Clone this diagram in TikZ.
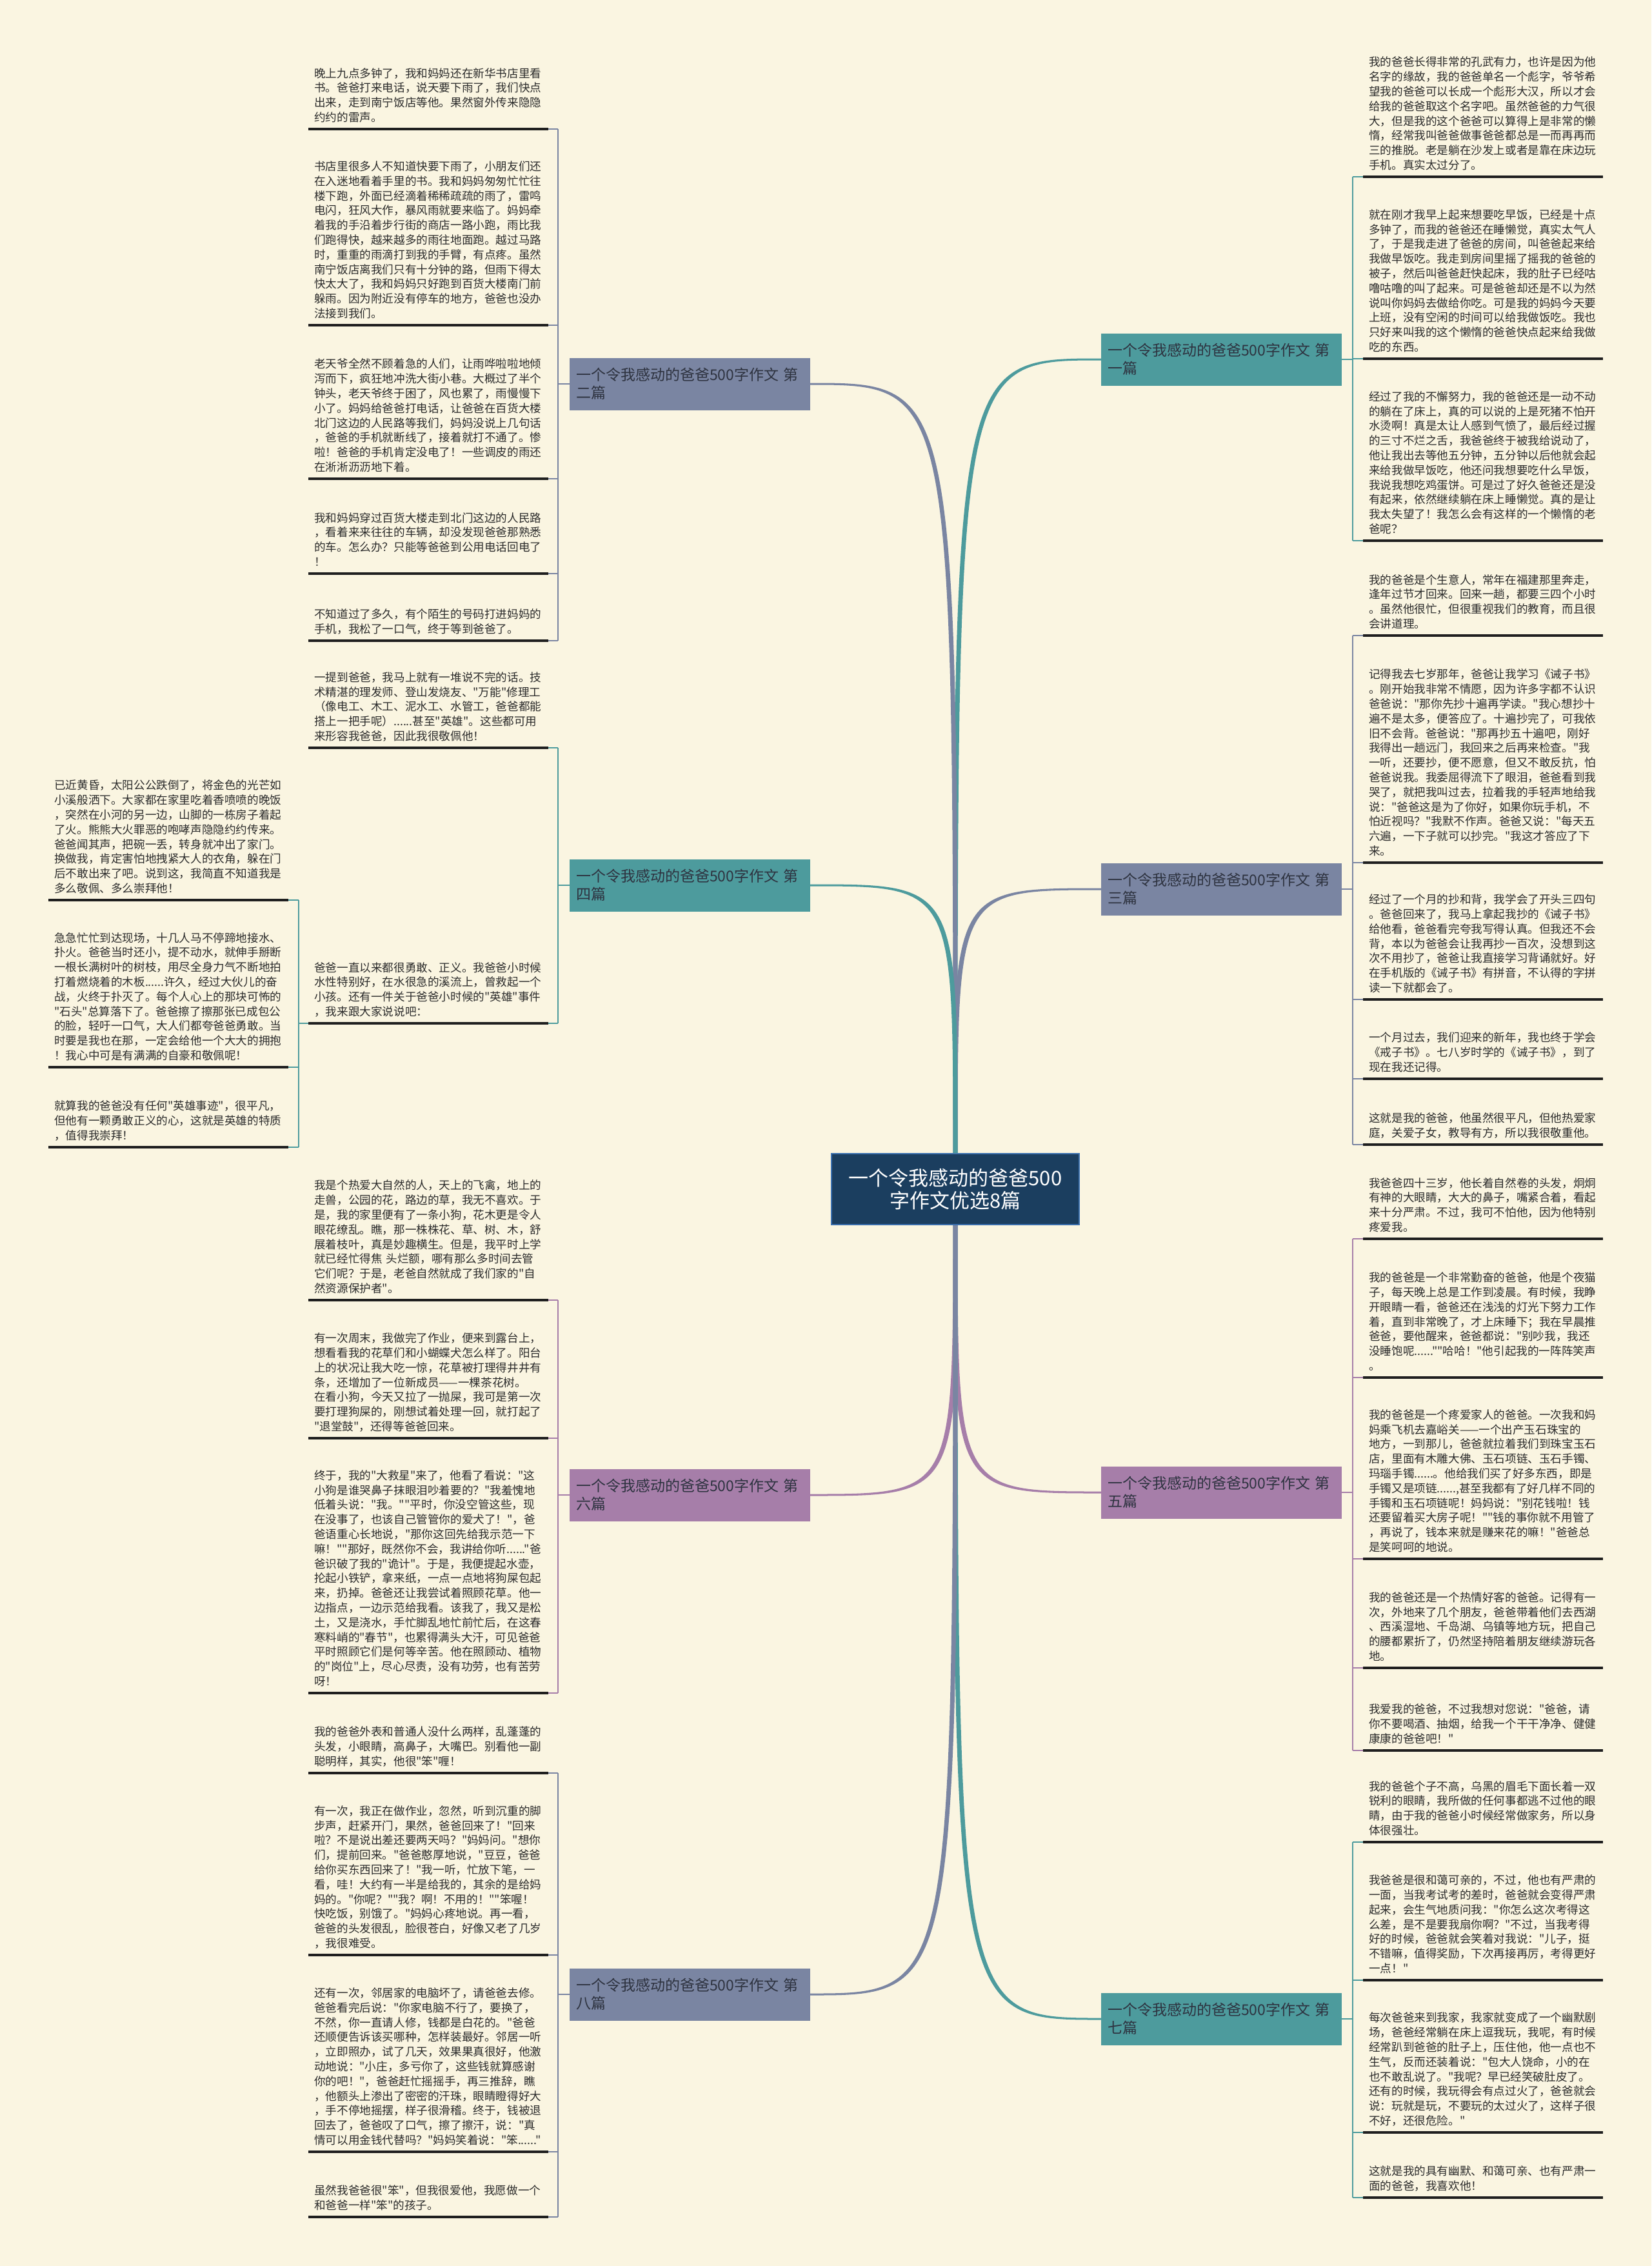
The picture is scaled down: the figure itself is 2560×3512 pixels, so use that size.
\documentclass[tikz,border=0pt]{standalone}
\usepackage{fontspec}
\usetikzlibrary{calc}
\newfontfamily\cjk{Noto Sans CJK SC}
\definecolor{bg}{HTML}{FAF5E1}
\definecolor{slatec}{HTML}{7A85A2}
\definecolor{tealc}{HTML}{4D9B9D}
\definecolor{mauvec}{HTML}{A67EA9}
\definecolor{cfill}{HTML}{1B3E5F}
\definecolor{cdraw}{HTML}{3A6FAE}
\definecolor{txtc}{HTML}{2B2B2B}
\definecolor{labtxt}{HTML}{2E3340}
\tikzset{
  tb/.style={inner xsep=9pt, inner ysep=0pt, text width=354pt, align=left,
    font=\cjk\fontsize{17.6}{22.8}\selectfont, text=txtc},
  lab/.style={text width=353pt, inner xsep=10pt, minimum height=81pt, align=left,
    font=\cjk\fontsize{23}{28}\selectfont, text=labtxt},
  cnode/.style={fill=cfill, draw=cdraw, line width=2pt, minimum width=384pt,
    minimum height=110pt, align=center, text=white, font=\cjk\fontsize{31}{35}\selectfont},
  brk/.style={line width=2.5pt},
  uline/.style={line width=3.5pt, draw=black!88},
}
\newcommand\tb[4]{%
  \node[tb, anchor=south west] (#1) at (#2,#3) {#4\vrule depth 11.4pt height 0pt width 0pt};
  \draw[uline] (#1.south west) -- (#1.south east);}
% tapered connector: colour, start, end, pairing sign
\newcommand\conn[4]{%
  \coordinate (sa) at ($(#2)+(-3.5,0)$);
  \coordinate (sb) at ($(#2)+(3.5,0)$);
  \coordinate (ea) at ($(#3)+(0,{#4*1.5})$);
  \coordinate (eb) at ($(#3)+(0,{-#4*1.5})$);
  \fill[#1] (sa) .. controls (sa |- ea) .. (ea) -- (eb) .. controls (sb |- eb) .. (sb) -- cycle;}
\begin{document}
\begin{tikzpicture}[x=1pt,y=-1pt]
\fill[bg] (0,0) rectangle (2560,3512);
\useasboundingbox (0,0) rectangle (2560,3512);

% center
\node[cnode] (c) at (1481,1843) {一个令我感动的爸爸500\\字作文优选8篇};

% labels
\node[lab, fill=tealc] (l1) at (1893.5,557) {一个令我感动的爸爸500字作文 第\\一篇};
\node[lab, fill=slatec] (l2) at (1069.5,595) {一个令我感动的爸爸500字作文 第\\二篇};
\node[lab, fill=slatec] (l3) at (1893.5,1378) {一个令我感动的爸爸500字作文 第\\三篇};
\node[lab, fill=tealc] (l4) at (1069.5,1372) {一个令我感动的爸爸500字作文 第\\四篇};
\node[lab, fill=mauvec] (l5) at (1893.5,2313) {一个令我感动的爸爸500字作文 第\\五篇};
\node[lab, fill=mauvec] (l6) at (1069.5,2317) {一个令我感动的爸爸500字作文 第\\六篇};
\node[lab, fill=tealc] (l7) at (1893.5,3129) {一个令我感动的爸爸500字作文 第\\七篇};
\node[lab, fill=slatec] (l8) at (1069.5,3091) {一个令我感动的爸爸500字作文 第\\八篇};

% center connectors (tapered)
\conn{tealc}{c.north}{l1.west}{-1}
\conn{slatec}{c.north}{l2.east}{1}
\conn{slatec}{c.north}{l3.west}{-1}
\conn{tealc}{c.north}{l4.east}{1}
\conn{mauvec}{c.south}{l5.west}{1}
\conn{mauvec}{c.south}{l6.east}{-1}
\conn{tealc}{c.south}{l7.west}{1}
\conn{slatec}{c.south}{l8.east}{-1}

% bracket points
\coordinate (v1) at (2097,557);
\coordinate (v2) at (865,595);
\coordinate (v3) at (2097,1378);
\coordinate (v4) at (865,1372);
\coordinate (v5) at (2097,2313);
\coordinate (v6) at (865,2317);
\coordinate (v7) at (2097,3129);
\coordinate (v8) at (865,3091);
\coordinate (vf) at (463,1586);

% ===== 第二篇 =====
\tb{b2a}{478}{200}{晚上九点多钟了，我和妈妈还在新华书店里看\\书。爸爸打来电话，说天要下雨了，我们快点\\出来，走到南宁饭店等他。果然窗外传来隐隐\\约约的雷声。}
\tb{b2b}{478}{504}{书店里很多人不知道快要下雨了，小朋友们还\\在入迷地看着手里的书。我和妈妈匆匆忙忙往\\楼下跑，外面已经滴着稀稀疏疏的雨了，雷鸣\\电闪，狂风大作，暴风雨就要来临了。妈妈牵\\着我的手沿着步行街的商店一路小跑，雨比我\\们跑得快，越来越多的雨往地面跑。越过马路\\时，重重的雨滴打到我的手臂，有点疼。虽然\\南宁饭店离我们只有十分钟的路，但雨下得太\\快太大了，我和妈妈只好跑到百货大楼南门前\\躲雨。因为附近没有停车的地方，爸爸也没办\\法接到我们。}
\tb{b2c}{478}{742}{老天爷全然不顾着急的人们，让雨哗啦啦地倾\\泻而下，疯狂地冲洗大街小巷。大概过了半个\\钟头，老天爷终于困了，风也累了，雨慢慢下\\小了。妈妈给爸爸打电话，让爸爸在百货大楼\\北门这边的人民路等我们，妈妈没说上几句话\\，爸爸的手机就断线了，接着就打不通了。惨\\啦！爸爸的手机肯定没电了！一些调皮的雨还\\在淅淅沥沥地下着。}
\tb{b2d}{478}{889}{我和妈妈穿过百货大楼走到北门这边的人民路\\，看着来来往往的车辆，却没发现爸爸那熟悉\\的车。怎么办？只能等爸爸到公用电话回电了\\！}
\tb{b2e}{478}{993}{不知道过了多久，有个陌生的号码打进妈妈的\\手机，我松了一口气，终于等到爸爸了。}
\draw[brk, slatec] (l2.west) -- (v2);
\draw[brk, slatec] (v2 |- b2a.south) -- (v2 |- b2e.south);
\foreach \b in {b2a,b2b,b2c,b2d,b2e} \draw[brk, slatec] (\b.south east) -- (v2 |- \b.south);

% ===== 第四篇 =====
\tb{b4a}{478}{1159}{一提到爸爸，我马上就有一堆说不完的话。技\\术精湛的理发师、登山发烧友、"万能"修理工\\（像电工、木工、泥水工、水管工，爸爸都能\\搭上一把手呢）......甚至"英雄"。这些都可用\\来形容我爸爸，因此我很敬佩他！}
\tb{b4b}{478}{1586}{爸爸一直以来都很勇敢、正义。我爸爸小时候\\水性特别好，在水很急的溪流上，曾救起一个\\小孩。还有一件关于爸爸小时候的"英雄"事件\\，我来跟大家说说吧：}
\draw[brk, tealc] (l4.west) -- (v4);
\draw[brk, tealc] (v4 |- b4a.south) -- (v4 |- b4b.south);
\foreach \b in {b4a,b4b} \draw[brk, tealc] (\b.south east) -- (v4 |- \b.south);

\tb{f1}{75}{1395}{已近黄昏，太阳公公跌倒了，将金色的光芒如\\小溪般洒下。大家都在家里吃着香喷喷的晚饭\\，突然在小河的另一边，山脚的一栋房子着起\\了火。熊熊大火罪恶的咆哮声隐隐约约传来。\\爸爸闻其声，把碗一丢，转身就冲出了家门。\\换做我，肯定害怕地拽紧大人的衣角，躲在门\\后不敢出来了吧。说到这，我简直不知道我是\\多么敬佩、多么崇拜他！}
\tb{f2}{75}{1654}{急急忙忙到达现场，十几人马不停蹄地接水、\\扑火。爸爸当时还小，提不动水，就伸手掰断\\一根长满树叶的树枝，用尽全身力气不断地拍\\打着燃烧着的木板......许久，经过大伙儿的奋\\战，火终于扑灭了。每个人心上的那块可怖的\\"石头"总算落下了。爸爸擦了擦那张已成包公\\的脸，轻吁一口气，大人们都夸爸爸勇敢。当\\时要是我也在那，一定会给他一个大大的拥抱\\！我心中可是有满满的自豪和敬佩呢！}
\tb{f3}{75}{1778}{就算我的爸爸没有任何"英雄事迹"，很平凡，\\但他有一颗勇敢正义的心，这就是英雄的特质\\，值得我崇拜！}
\draw[brk, tealc] (b4b.south west) -- (vf |- b4b.south);
\draw[brk, tealc] (vf |- f1.south) -- (vf |- f3.south);
\foreach \b in {f1,f2,f3} \draw[brk, tealc] (\b.south east) -- (vf |- \b.south);

% ===== 第六篇 =====
\tb{b6a}{478}{2015}{我是个热爱大自然的人，天上的飞禽，地上的\\走兽，公园的花，路边的草，我无不喜欢。于\\是，我的家里便有了一条小狗，花木更是令人\\眼花缭乱。瞧，那一株株花、草、树、木，舒\\展着枝叶，真是妙趣横生。但是，我平时上学\\就已经忙得焦 头烂额，哪有那么多时间去管\\它们呢？于是，老爸自然就成了我们家的"自\\然资源保护者"。}
\tb{b6b}{478}{2229}{有一次周末，我做完了作业，便来到露台上，\\想看看我的花草们和小蝴蝶犬怎么样了。阳台\\上的状况让我大吃一惊，花草被打理得井井有\\条，还增加了一位新成员——一棵茶花树。\\在看小狗，今天又拉了一抛屎，我可是第一次\\要打理狗屎的，刚想试着处理一回，就打起了\\"退堂鼓"，还得等爸爸回来。}
\tb{b6c}{478}{2624}{终于，我的"大救星"来了，他看了看说："这\\小狗是谁哭鼻子抹眼泪吵着要的？"我羞愧地\\低着头说："我。""平时，你没空管这些，现\\在没事了，也该自己管管你的爱犬了！"，爸\\爸语重心长地说，"那你这回先给我示范一下\\嘛！""那好，既然你不会，我讲给你听......"爸\\爸识破了我的"诡计"。于是，我便提起水壶，\\抡起小铁铲，拿来纸，一点一点地将狗屎包起\\来，扔掉。爸爸还让我尝试着照顾花草。他一\\边指点，一边示范给我看。该我了，我又是松\\土，又是浇水，手忙脚乱地忙前忙后，在这春\\寒料峭的"春节"，也累得满头大汗，可见爸爸\\平时照顾它们是何等辛苦。他在照顾动、植物\\的"岗位"上，尽心尽责，没有功劳，也有苦劳\\呀！}
\draw[brk, mauvec] (l6.west) -- (v6);
\draw[brk, mauvec] (v6 |- b6a.south) -- (v6 |- b6c.south);
\foreach \b in {b6a,b6b,b6c} \draw[brk, mauvec] (\b.south east) -- (v6 |- \b.south);

% ===== 第八篇 =====
\tb{b8a}{478}{2748}{我的爸爸外表和普通人没什么两样，乱蓬蓬的\\头发，小眼睛，高鼻子，大嘴巴。别看他一副\\聪明样，其实，他很"笨"喱！}
\tb{b8b}{478}{3030}{有一次，我正在做作业，忽然，听到沉重的脚\\步声，赶紧开门，果然，爸爸回来了！"回来\\啦？不是说出差还要两天吗？"妈妈问。"想你\\们，提前回来。"爸爸憨厚地说，"豆豆，爸爸\\给你买东西回来了！"我一听，忙放下笔，一\\看，哇！大约有一半是给我的，其余的是给妈\\妈的。"你呢？""我？啊！不用的！""笨喔！\\快吃饭，别饿了。"妈妈心疼地说。再一看，\\爸爸的头发很乱，脸很苍白，好像又老了几岁\\，我很难受。}
\tb{b8c}{478}{3335}{还有一次，邻居家的电脑坏了，请爸爸去修。\\爸爸看完后说："你家电脑不行了，要换了，\\不然，你一直请人修，钱都是白花的。"爸爸\\还顺便告诉该买哪种，怎样装最好。邻居一听\\，立即照办，试了几天，效果果真很好，他激\\动地说："小庄，多亏你了，这些钱就算感谢\\你的吧！"，爸爸赶忙摇摇手，再三推辞，瞧\\，他额头上渗出了密密的汗珠，眼睛瞪得好大\\，手不停地摇摆，样子很滑稽。终于，钱被退\\回去了，爸爸叹了口气，擦了擦汗，说："真\\情可以用金钱代替吗？"妈妈笑着说："笨......"}
\tb{b8d}{478}{3436}{虽然我爸爸很"笨"，但我很爱他，我愿做一个\\和爸爸一样"笨"的孩子。}
\draw[brk, slatec] (l8.west) -- (v8);
\draw[brk, slatec] (v8 |- b8a.south) -- (v8 |- b8d.south);
\foreach \b in {b8a,b8b,b8c,b8d} \draw[brk, slatec] (\b.south east) -- (v8 |- \b.south);

% ===== 第一篇 =====
\tb{b1a}{2113}{274}{我的爸爸长得非常的孔武有力，也许是因为他\\名字的缘故，我的爸爸单名一个彪字，爷爷希\\望我的爸爸可以长成一个彪形大汉，所以才会\\给我的爸爸取这个名字吧。虽然爸爸的力气很\\大，但是我的这个爸爸可以算得上是非常的懒\\惰，经常我叫爸爸做事爸爸都总是一而再再而\\三的推脱。老是躺在沙发上或者是靠在床边玩\\手机。真实太过分了。}
\tb{b1b}{2113}{556}{就在刚才我早上起来想要吃早饭，已经是十点\\多钟了，而我的爸爸还在睡懒觉，真实太气人\\了，于是我走进了爸爸的房间，叫爸爸起来给\\我做早饭吃。我走到房间里摇了摇我的爸爸的\\被子，然后叫爸爸赶快起床，我的肚子已经咕\\噜咕噜的叫了起来。可是爸爸却还是不以为然\\说叫你妈妈去做给你吃。可是我的妈妈今天要\\上班，没有空闲的时间可以给我做饭吃。我也\\只好来叫我的这个懒惰的爸爸快点起来给我做\\吃的东西。}
\tb{b1c}{2113}{838}{经过了我的不懈努力，我的爸爸还是一动不动\\的躺在了床上，真的可以说的上是死猪不怕开\\水烫啊！真是太让人感到气愤了，最后经过握\\的三寸不烂之舌，我爸爸终于被我给说动了，\\他让我出去等他五分钟，五分钟以后他就会起\\来给我做早饭吃，他还问我想要吃什么早饭，\\我说我想吃鸡蛋饼。可是过了好久爸爸还是没\\有起来，依然继续躺在床上睡懒觉。真的是让\\我太失望了！我怎么会有这样的一个懒惰的老\\爸呢？}
\draw[brk, tealc] (l1.east) -- (v1);
\draw[brk, tealc] (v1 |- b1a.south) -- (v1 |- b1c.south);
\foreach \b in {b1a,b1b,b1c} \draw[brk, tealc] (\b.south west) -- (v1 |- \b.south);

% ===== 第三篇 =====
\tb{b3a}{2113}{985}{我的爸爸是个生意人，常年在福建那里奔走，\\逢年过节才回来。回来一趟，都要三四个小时\\。虽然他很忙，但很重视我们的教育，而且很\\会讲道理。}
\tb{b3b}{2113}{1337}{记得我去七岁那年，爸爸让我学习《诫子书》\\。刚开始我非常不情愿，因为许多字都不认识\\爸爸说："那你先抄十遍再学读。"我心想抄十\\遍不是太多，便答应了。十遍抄完了，可我依\\旧不会背。爸爸说："那再抄五十遍吧，刚好\\我得出一趟远门，我回来之后再来检查。"我\\一听，还要抄，便不愿意，但又不敢反抗，怕\\爸爸说我。我委屈得流下了眼泪，爸爸看到我\\哭了，就把我叫过去，拉着我的手轻声地给我\\说："爸爸这是为了你好，如果你玩手机，不\\怕近视吗？"我默不作声。爸爸又说："每天五\\六遍，一下子就可以抄完。"我这才答应了下\\来。}
\tb{b3c}{2113}{1549}{经过了一个月的抄和背，我学会了开头三四句\\。爸爸回来了，我马上拿起我抄的《诫子书》\\给他看，爸爸看完夸我写得认真。但我还不会\\背，本以为爸爸会让我再抄一百次，没想到这\\次不用抄了，爸爸让我直接学习背诵就好。好\\在手机版的《诫子书》有拼音，不认得的字拼\\读一下就都会了。}
\tb{b3d}{2113}{1672}{一个月过去，我们迎来的新年，我也终于学会\\《戒子书》。七八岁时学的《诫子书》，到了\\现在我还记得。}
\tb{b3e}{2113}{1774}{这就是我的爸爸，他虽然很平凡，但他热爱家\\庭，关爱子女，教导有方，所以我很敬重他。}
\draw[brk, slatec] (l3.east) -- (v3);
\draw[brk, slatec] (v3 |- b3a.south) -- (v3 |- b3e.south);
\foreach \b in {b3a,b3b,b3c,b3d,b3e} \draw[brk, slatec] (\b.south west) -- (v3 |- \b.south);

% ===== 第五篇 =====
\tb{b5a}{2113}{1920}{我爸爸四十三岁，他长着自然卷的头发，炯炯\\有神的大眼睛，大大的鼻子，嘴紧合着，看起\\来十分严肃。不过，我可不怕他，因为他特别\\疼爱我。}
\tb{b5b}{2113}{2135}{我的爸爸是一个非常勤奋的爸爸，他是个夜猫\\子，每天晚上总是工作到凌晨。有时候，我睁\\开眼睛一看，爸爸还在浅浅的灯光下努力工作\\着，直到非常晚了，才上床睡下；我在早晨推\\爸爸，要他醒来，爸爸都说："别吵我，我还\\没睡饱呢......""哈哈！"他引起我的一阵阵笑声\\。}
\tb{b5c}{2113}{2416}{我的爸爸是一个疼爱家人的爸爸。一次我和妈\\妈乘飞机去嘉峪关——一个出产玉石珠宝的\\地方，一到那儿，爸爸就拉着我们到珠宝玉石\\店，里面有木雕大佛、玉石项链、玉石手镯、\\玛瑙手镯......。他给我们买了好多东西，即是\\手镯又是项链......,甚至我都有了好几样不同的\\手镯和玉石项链呢！妈妈说："别花钱啦！钱\\还要留着买大房子呢！""钱的事你就不用管了\\，再说了，钱本来就是赚来花的嘛！"爸爸总\\是笑呵呵的地说。}
\tb{b5d}{2113}{2585}{我的爸爸还是一个热情好客的爸爸。记得有一\\次，外地来了几个朋友，爸爸带着他们去西湖\\、西溪湿地、千岛湖、乌镇等地方玩，把自己\\的腰都累折了，仍然坚持陪着朋友继续游玩各\\地。}
\tb{b5e}{2113}{2713}{我爱我的爸爸，不过我想对您说："爸爸，请\\你不要喝酒、抽烟，给我一个干干净净、健健\\康康的爸爸吧！"}
\draw[brk, mauvec] (l5.east) -- (v5);
\draw[brk, mauvec] (v5 |- b5a.south) -- (v5 |- b5e.south);
\foreach \b in {b5a,b5b,b5c,b5d,b5e} \draw[brk, mauvec] (\b.south west) -- (v5 |- \b.south);

% ===== 第七篇 =====
\tb{b7a}{2113}{2855}{我的爸爸个子不高，乌黑的眉毛下面长着一双\\锐利的眼睛，我所做的任何事都逃不过他的眼\\睛，由于我的爸爸小时候经常做家务，所以身\\体很强壮。}
\tb{b7b}{2113}{3069}{我爸爸是很和蔼可亲的，不过，他也有严肃的\\一面，当我考试考的差时，爸爸就会变得严肃\\起来，会生气地质问我："你怎么这次考得这\\么差，是不是要我扇你啊？"不过，当我考得\\好的时候，爸爸就会笑着对我说："儿子，挺\\不错嘛，值得奖励，下次再接再厉，考得更好\\一点！"}
\tb{b7c}{2113}{3305}{每次爸爸来到我家，我家就变成了一个幽默剧\\场，爸爸经常躺在床上逗我玩，我呢，有时候\\经常趴到爸爸的肚子上，压住他，他一点也不\\生气，反而还装着说："包大人饶命，小的在\\也不敢乱说了。"我呢？早已经笑破肚皮了。\\还有的时候，我玩得会有点过火了，爸爸就会\\说：玩就是玩，不要玩的太过火了，这样子很\\不好，还很危险。"}
\tb{b7d}{2113}{3406}{这就是我的具有幽默、和蔼可亲、也有严肃一\\面的爸爸，我喜欢他！}
\draw[brk, tealc] (l7.east) -- (v7);
\draw[brk, tealc] (v7 |- b7a.south) -- (v7 |- b7d.south);
\foreach \b in {b7a,b7b,b7c,b7d} \draw[brk, tealc] (\b.south west) -- (v7 |- \b.south);
\end{tikzpicture}
\end{document}
